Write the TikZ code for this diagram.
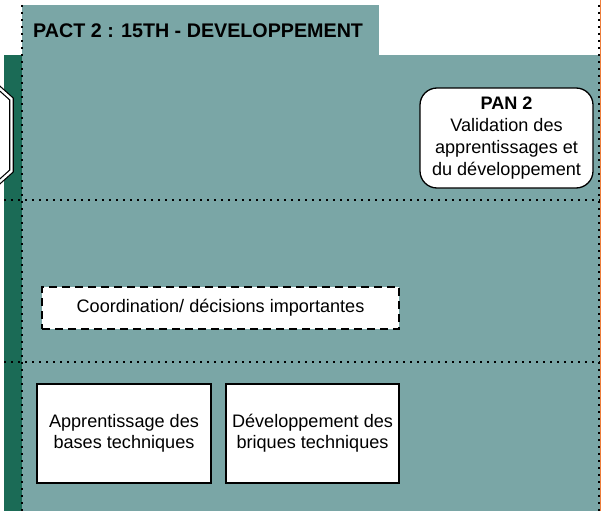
\documentclass[tikz,border=0pt]{standalone}
\usepackage{fontspec}
\setmainfont{Liberation Sans}

\definecolor{pactTeal}{HTML}{7AA6A6}
\definecolor{pactGreen}{HTML}{1B6B56}
\definecolor{pactOrange}{HTML}{EE7F3D}

\begin{document}
\begin{tikzpicture}[x=1pt,y=-1pt,
	taskBox/.style={draw,fill=white,line width=1.3pt,inner sep=0pt,align=center,font=\fontsize{18.1}{20.8}\selectfont},
	dotLine/.style={line width=2pt,dash pattern=on 2pt off 5pt}]
	\clip (0,0) rectangle (601,511);
	\useasboundingbox (0,0) rectangle (601,511);

	% background of the lane
	\fill[pactTeal] (22,5) rectangle (379,56);
	\fill[pactTeal] (22,55) rectangle (600,511);
	\fill[pactGreen] (4,55) rectangle (22,511);
	\draw[pactOrange,line width=1.2pt] (600.5,0) -- (600.5,511);

	\draw[dotLine] (22,5) -- (22,511);
	\draw[dotLine] (599,5) -- (599,511);
	\draw[dotLine] (4,200) -- (600,200);
	\draw[dotLine] (4,362) -- (600,362);

	% cut hexagon on the left border
	\draw[line width=1.2pt,double=white,double distance=2.4pt,fill=white] (-3,86) -- (11.5,99) -- (11.5,171) -- (-3,184);

	\node[anchor=west,inner sep=0pt,font=\bfseries\fontsize{19.7}{22}\selectfont] (title) at (33,31) {PACT 2 : 15TH - DEVELOPPEMENT};

	\newcommand\drawTask[5]{\node[taskBox,minimum width=#3,minimum height=#4] at (#1,#2) (#5)}

	\drawTask{506.5}{138}{173pt}{100pt}{pan}[rounded corners=17pt,font=\fontsize{18.1}{21.8}\selectfont] {\textbf{PAN 2}\\Validation des\\apprentissages et\\du développement};
	\drawTask{220.5}{308}{357pt}{42pt}{coord}[dash pattern=on 8pt off 5pt] {Coordination/ décisions importantes};
	\drawTask{124}{433.5}{174pt}{99pt}{bases} {Apprentissage des\\bases techniques};
	\drawTask{312.5}{433.5}{173pt}{99pt}{briques} {Développement des\\briques techniques};
\end{tikzpicture}
\end{document}
